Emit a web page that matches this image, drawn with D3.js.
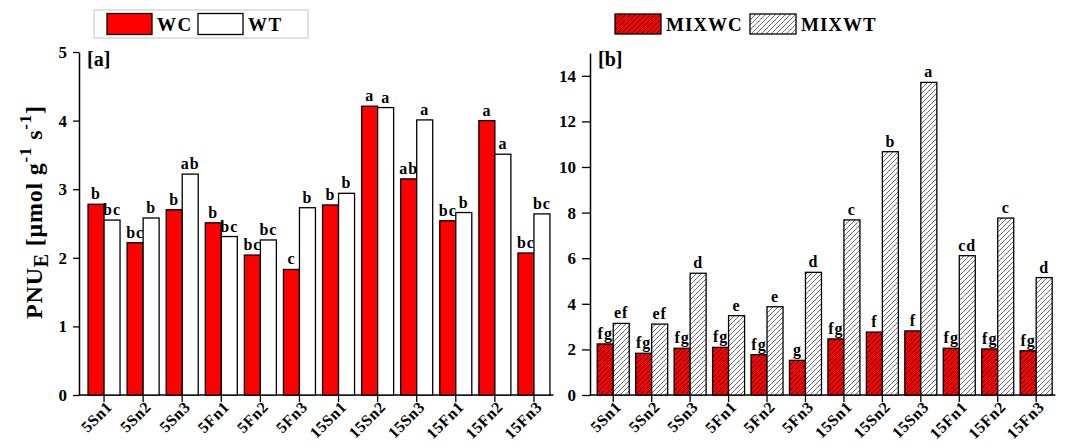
<!DOCTYPE html>
<html><head><meta charset="utf-8">
<script src="https://cdn.jsdelivr.net/npm/d3@7"></script>
<style>
body{margin:0;background:#fff}
text{font-family:"Liberation Serif","Times New Roman",serif;font-weight:bold;fill:#000}
</style>
</head><body>
<svg id="c" width="1072" height="448"></svg>
<script>
const categories = ["5Sn1","5Sn2","5Sn3","5Fn1","5Fn2","5Fn3","15Sn1","15Sn2","15Sn3","15Fn1","15Fn2","15Fn3"];
const wcValues = [2.78,2.22,2.70,2.51,2.04,1.83,2.77,4.21,3.15,2.54,4.00,2.07];
const wtValues = [2.55,2.58,3.22,2.31,2.26,2.73,2.94,4.19,4.01,2.66,3.51,2.64];
const wcLetters = ["b","bc","b","b","bc","c","b","a","ab","bc","a","bc"];
const wtLetters = ["bc","b","ab","bc","bc","b","b","a","a","b","a","bc"];
const mixwcValues = [2.24,1.83,2.05,2.09,1.77,1.52,2.46,2.76,2.81,2.05,2.02,1.94];
const mixwtValues = [3.14,3.11,5.34,3.48,3.87,5.38,7.68,10.67,13.71,6.11,7.76,5.15];
const mixwcLetters = ["fg","fg","fg","fg","fg","g","fg","f","f","fg","fg","fg"];
const mixwtLetters = ["ef","ef","d","e","e","d","c","b","a","cd","c","d"];
const yTicksA = [0,1,2,3,4,5];
const yTicksB = [0,2,4,6,8,10,12,14];
const legendA = ["WC","WT"];
const legendB = ["MIXWC","MIXWT"];

const svg = d3.select("#c");
const defs = svg.append("defs");
function hatch(id, bg, lineColor){
  const p = defs.append("pattern").attr("id",id).attr("patternUnits","userSpaceOnUse")
    .attr("width",5).attr("height",5);
  p.append("rect").attr("width",5).attr("height",5).attr("fill",bg);
  p.append("path").attr("d","M-1,1 l2,-2 M0,5 l5,-5 M4,6 l2,-2")
    .attr("stroke",lineColor).attr("stroke-width",0.8);
}
hatch("hRed","#ff0000","#000");
hatch("hWhite","#fff","#444");

function panel(cfg){
  const x = d3.scaleBand().domain(categories).range(cfg.xRange).padding(0);
  const y = d3.scaleLinear().domain(cfg.yDomain).range([395, cfg.yTop]);
  const g = svg.append("g");
  // x-axis
  const xa = g.append("g").attr("transform","translate(0,395)")
    .call(d3.axisBottom(x).tickSize(7).tickSizeOuter(0));
  xa.select(".domain").remove();
  xa.selectAll(".tick line").attr("stroke","#000").attr("stroke-width",1.3);
  xa.selectAll(".tick text").attr("font-size",16).attr("text-anchor","end")
    .attr("dy",0).attr("dx",0).attr("y",0).attr("letter-spacing",0.5)
    .attr("transform","translate(9,13) rotate(-45)");
  g.append("line").attr("x1",cfg.axisX).attr("x2",cfg.xRange[1]).attr("y1",395).attr("y2",395)
    .attr("stroke","#000").attr("stroke-width",1.5);
  // y-axis
  const ya = g.append("g").attr("transform",`translate(${cfg.axisX},0)`)
    .call(d3.axisLeft(y).tickValues(cfg.yTicks).tickFormat(d3.format("d"))
      .tickSize(cfg.tickLen).tickSizeOuter(0).tickPadding(6));
  ya.select(".domain").attr("stroke","#000").attr("stroke-width",1.5);
  ya.selectAll(".tick line").attr("stroke","#000").attr("stroke-width",1.3);
  ya.selectAll(".tick text").attr("font-size",17);
  // bars
  const bw = cfg.barW;
  const groups = categories.map((c,i)=>({c,i}));
  const barsG = g.append("g");
  barsG.selectAll("rect.a").data(groups).join("rect")
    .attr("x",d=>x(d.c)+x.bandwidth()/2-bw).attr("width",bw)
    .attr("y",d=>y(cfg.v1[d.i])).attr("height",d=>395-y(cfg.v1[d.i]))
    .attr("fill",cfg.fill1).attr("stroke","#000").attr("stroke-width",1.3);
  barsG.selectAll("rect.b").data(groups).join("rect").attr("class","b")
    .attr("x",d=>x(d.c)+x.bandwidth()/2).attr("width",bw)
    .attr("y",d=>y(cfg.v2[d.i])).attr("height",d=>395-y(cfg.v2[d.i]))
    .attr("fill",cfg.fill2).attr("stroke","#000").attr("stroke-width",1.3);
  // letters
  g.selectAll("text.l1").data(groups).join("text").attr("class","l1")
    .attr("x",d=>x(d.c)+x.bandwidth()/2-bw/2).attr("y",d=>y(cfg.v1[d.i])-5)
    .attr("text-anchor","middle").attr("font-size",16).attr("letter-spacing",1)
    .text(d=>cfg.l1[d.i]);
  g.selectAll("text.l2").data(groups).join("text").attr("class","l2")
    .attr("x",d=>x(d.c)+x.bandwidth()/2+bw/2).attr("y",d=>y(cfg.v2[d.i])-5)
    .attr("text-anchor","middle").attr("font-size",16).attr("letter-spacing",1)
    .text(d=>cfg.l2[d.i]);
  g.append("text").attr("x",cfg.axisX+8).attr("y",cfg.tagY).attr("font-size",20).text(cfg.tag);
}

panel({xRange:[84.5,553.5], axisX:79, yDomain:[0,5], yTop:52, yTicks:yTicksA, tickLen:6,
  v1:wcValues, v2:wtValues, l1:wcLetters, l2:wtLetters, fill1:"#ff0000", fill2:"#fff",
  barW:16, tag:"[a]", tagY:66});
panel({xRange:[594,1055.4], axisX:590, yDomain:[0,15], yTop:53, yTicks:yTicksB, tickLen:8,
  v1:mixwcValues, v2:mixwtValues, l1:mixwcLetters, l2:mixwtLetters, fill1:"url(#hRed)", fill2:"url(#hWhite)",
  barW:16, tag:"[b]", tagY:66});

// y label
const yl = svg.append("text").attr("transform","translate(42,212) rotate(-90)")
  .attr("text-anchor","middle").attr("font-size",24).attr("letter-spacing",0.8);
yl.append("tspan").text("PNU");
yl.append("tspan").attr("dy",6).attr("font-size",20).text("E");
yl.append("tspan").attr("dy",-6).text(" [μmol g");
yl.append("tspan").attr("dy",-11).attr("font-size",17).text("-1");
yl.append("tspan").attr("dy",11).text(" s");
yl.append("tspan").attr("dy",-11).attr("font-size",17).text("-1");
yl.append("tspan").attr("dy",11).text("]");

// legend A
svg.append("rect").attr("x",94).attr("y",10).attr("width",214).attr("height",28)
  .attr("fill","#fff").attr("stroke","#ccc").attr("stroke-width",1.2);
const la = [{n:legendA[0],f:"#ff0000",x:107},{n:legendA[1],f:"#fff",x:198}];
svg.selectAll("rect.lga").data(la).join("rect").attr("class","lga")
  .attr("x",d=>d.x).attr("y",13.5).attr("width",45).attr("height",21)
  .attr("fill",d=>d.f).attr("stroke","#000").attr("stroke-width",1.3);
svg.selectAll("text.lga").data(la).join("text").attr("class","lga")
  .attr("x",d=>d.x+50).attr("y",31).attr("font-size",19).attr("letter-spacing",1.5).text(d=>d.n);
// legend B
const lb = [{n:legendB[0],f:"url(#hRed)",x:615},{n:legendB[1],f:"url(#hWhite)",x:750}];
svg.selectAll("rect.lgb").data(lb).join("rect").attr("class","lgb")
  .attr("x",d=>d.x).attr("y",14).attr("width",46).attr("height",20)
  .attr("fill",d=>d.f).attr("stroke","#000").attr("stroke-width",1.3);
svg.selectAll("text.lgb").data(lb).join("text").attr("class","lgb")
  .attr("x",d=>d.x+51).attr("y",31).attr("font-size",19).attr("letter-spacing",1).text(d=>d.n);
</script>
</body></html>
